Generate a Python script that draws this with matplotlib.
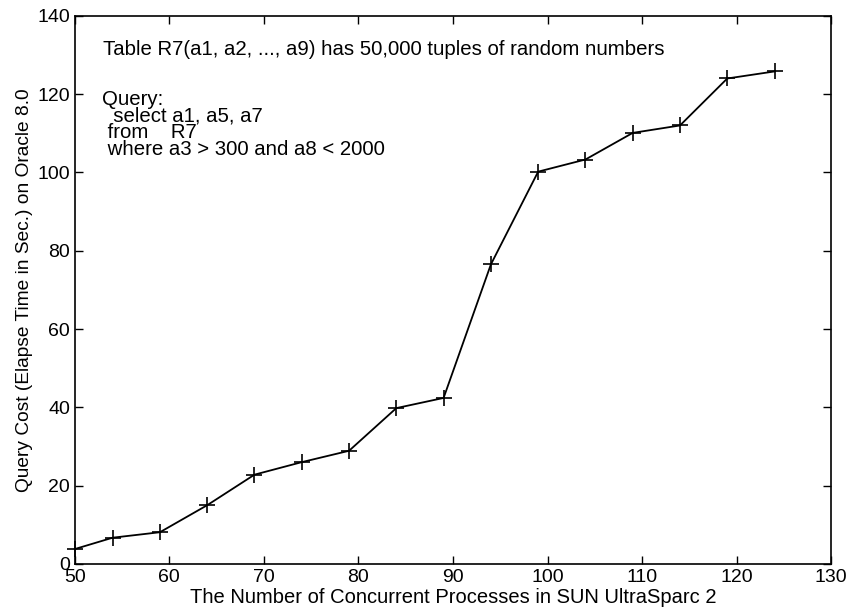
import matplotlib
matplotlib.use("Agg")
import matplotlib.pyplot as plt

plt.rcParams['font.family'] = ['Liberation Sans', 'DejaVu Sans']

# data
processes = [50, 54, 59, 64, 69, 74, 79, 84, 89, 94, 99, 104, 109, 114, 119, 124]
query_cost = [3.8, 6.7, 8.1, 15.0, 22.8, 26.0, 28.9, 39.8, 42.4, 76.5, 100.2,
              103.3, 110.1, 112.0, 124.0, 125.8]
x_ticks = [50, 60, 70, 80, 90, 100, 110, 120, 130]
y_ticks = [0, 20, 40, 60, 80, 100, 120, 140]

fig = plt.figure(figsize=(8.5, 6.09), dpi=100)
ax = fig.add_axes([0.088, 0.074, 0.89, 0.90])

ax.plot(processes, query_cost, color='black', linewidth=1.3,
        marker='+', markersize=11, markeredgewidth=1.2, clip_on=False)

ax.set_xlim(50, 130)
ax.set_ylim(0, 140)
ax.set_xticks(x_ticks)
ax.set_yticks(y_ticks)
ax.tick_params(direction='in', top=True, right=True, length=6,
               labelsize=14, width=1)
ax.tick_params(axis='x', pad=4)
for s in ax.spines.values():
    s.set_linewidth(1.2)

ax.set_xlabel("The Number of Concurrent Processes in SUN UltraSparc 2",
              fontsize=14.5, labelpad=1)
ax.set_ylabel("Query Cost (Elapse Time in Sec.) on Oracle 8.0",
              fontsize=13.8, labelpad=3)

ax.text(53.0, 131.3, "Table R7(a1, a2, ..., a9) has 50,000 tuples of random numbers",
        fontsize=14.7, va='center', ha='left')
query = "Query:\n  select a1, a5, a7\n from    R7\n where a3 > 300 and a8 < 2000"
ax.text(52.9, 112.3, query, fontsize=14.7, va='center', ha='left',
        linespacing=0.84)

fig.savefig("out.png", dpi=100)
